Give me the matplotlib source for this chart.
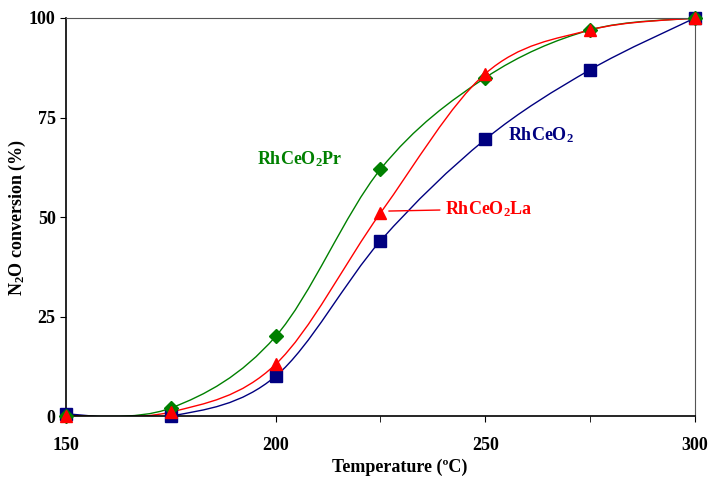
import numpy as np
import matplotlib.pyplot as plt
from matplotlib.path import Path
from matplotlib.patches import PathPatch

temp = [150, 175, 200, 225, 250, 275, 300]
rhceo2 = [0.5, 0.0, 10.0, 44.0, 69.5, 87.0, 100.0]
rhceo2_pr = [0.0, 2.0, 20.0, 62.0, 85.0, 97.0, 100.0]
rhceo2_la = [0.0, 1.0, 13.0, 51.0, 86.0, 97.0, 100.0]

plt.rcParams['font.family'] = ['Liberation Serif', 'DejaVu Serif']
plt.rcParams['font.weight'] = 'bold'
plt.rcParams['mathtext.default'] = 'regular'


def smooth_path(x, y):
    # excel-like smoothed line: cubic bezier through every point
    p = np.column_stack([x, y]).astype(float)
    n = len(p)
    verts = [p[0]]
    codes = [Path.MOVETO]
    for i in range(n - 1):
        p0 = p[i - 1] if i > 0 else p[i]
        p3 = p[i + 2] if i + 2 < n else p[i + 1]
        c1 = p[i] + (p[i + 1] - p0) / 6.0
        c2 = p[i + 1] - (p3 - p[i]) / 6.0
        verts += [c1, c2, p[i + 1]]
        codes += [Path.CURVE4] * 3
    return Path(verts, codes)


fig = plt.figure(figsize=(7.09, 4.8), dpi=100)
ax = fig.add_axes([0.0931, 0.1333, 0.887, 0.8292])

series = [
    (rhceo2, '#000080', 's', 8),
    (rhceo2_pr, '#008000', 'D', 7),
    (rhceo2_la, '#FF0000', '^', 9),
]
for y, c, m, ms in series:
    ax.add_patch(PathPatch(smooth_path(temp, y), facecolor='none', edgecolor=c, lw=1.0, zorder=2))
    ax.plot(temp, y, linestyle='none', marker=m, color=c, markersize=ms, zorder=3, clip_on=False)

ax.set_xlim(150, 300)
ax.set_ylim(0, 100)
ax.set_xticks([150, 200, 250, 300])
ax.set_xticks([175, 225, 275], minor=True)
ax.set_yticks([0, 25, 50, 75, 100])
ax.tick_params(axis='x', which='both', direction='out', length=4, pad=11, labelsize=13)
ax.tick_params(axis='y', direction='out', length=4, labelsize=13)
for s in ['top', 'right']:
    ax.spines[s].set_color('#555555')
ax.spines['left'].set_linewidth(1.2)
ax.spines['bottom'].set_linewidth(1.2)

ax.set_xlabel('Temperature (ºC)', fontsize=13, fontweight='bold')
ax.set_ylabel('N$_2$O conversion (%)', fontsize=13, fontweight='bold')
ax.xaxis.set_label_coords(0.53, -0.107)
ax.yaxis.set_label_coords(-0.060, 0.5)

ax.text(195.5, 64.5, 'RhCeO$_2$Pr', color='#008000', fontsize=13, fontweight='bold', va='center')
ax.text(255.5, 70.5, 'RhCeO$_2$', color='#000080', fontsize=13, fontweight='bold', va='center')
ax.annotate('RhCeO$_2$La', xy=(227, 51.5), xytext=(240.5, 52), color='#FF0000',
            fontsize=13, fontweight='bold', va='center',
            arrowprops=dict(arrowstyle='-', color='#FF0000', lw=1.0, shrinkA=2, shrinkB=0))

fig.savefig('out.png', dpi=100)
